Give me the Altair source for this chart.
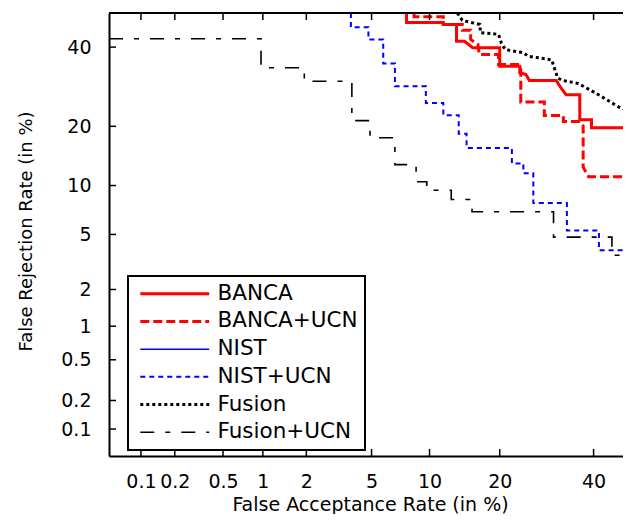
import altair as alt
import pandas as pd
from statistics import NormalDist

# ---------------- data (percent) ----------------
SERIES = ["BANCA", "BANCA+UCN", "NIST", "NIST+UCN", "Fusion", "Fusion+UCN"]
COLORS = ["#ff0000", "#ff0000", "#0000ff", "#0000ff", "#000000", "#000000"]
DASHES = [[1, 0], [9, 4], [1, 0], [5, 4], [3, 3], [14, 11, 5, 11]]
WIDTHS = [3, 3, 1.5, 2, 3, 1.6]

BANCA_FAR = [7.7, 7.7, 11.6, 11.6, 13.3, 13.3, 14.4, 15.6, 20.0, 20.0, 23.7, 23.7,
             24.9, 25.6, 31.3, 32.3, 33.5, 36.7, 36.7, 39.5, 39.5, 47.6, 48.4, 50]
BANCA_FRR = [50, 47.2, 47.2, 46.6, 46.6, 41.7, 41.7, 39.8, 39.8, 34.6, 34.6, 32.9,
             32.4, 30.8, 30.8, 29.0, 27.2, 27.2, 21.4, 21.4, 19.7, 19.7, 16.4, 16.0]

BANCA_UCN_FAR = [8.4, 8.4, 11.6, 11.6, 14.1, 14.1, 15.3, 15.3, 16.4, 16.6, 19.8, 19.8,
                 23.7, 23.9, 23.9, 28.7, 28.7, 32.9, 32.9, 36.7, 37.5, 37.5, 38.8, 50]
BANCA_UCN_FRR = [50, 48.9, 48.9, 46.6, 46.6, 44.9, 44.9, 42.2, 40.8, 37.9, 37.9, 35.1,
                 35.1, 33.3, 25.4, 25.4, 22.3, 22.3, 21.0, 21.0, 20.1, 12.6, 11.2, 11.2]

NIST_FAR = [47.8, 47.8, 50]
NIST_FRR = [50, 46.9, 46.9]

NIST_UCN_FAR = [3.8, 3.8, 4.8, 4.8, 5.8, 5.8, 6.7, 6.7, 9.6, 9.6, 11.6, 11.6, 13.6, 13.6,
                14.7, 14.7, 22.2, 22.2, 24.4, 24.4, 26.4, 26.4, 33.7, 33.7, 41.3, 41.3,
                48.1, 48.1, 50]
NIST_UCN_FRR = [50, 45.8, 45.8, 42.2, 42.2, 35.4, 35.4, 29.3, 29.3, 25.2, 25.2, 22.4, 22.4,
                18.5, 18.5, 15.8, 15.8, 13.2, 13.2, 11.7, 11.7, 7.9, 7.9, 5.3, 5.3, 3.9,
                3.9, 2.7, 2.7]

FUSION_FAR = [13.4, 14.1, 16.7, 16.8, 19.8, 20.3, 21.0, 24.4, 25.4, 30.3, 31.6, 32.5,
              36.4, 41.2, 46.1, 48.9, 50]
FUSION_FRR = [50, 47.8, 46.6, 44.2, 43.7, 41.1, 39.3, 38.4, 37.4, 36.4, 31.5, 30.9,
              30.0, 27.2, 24.3, 23.3, 23.0]

FUSION_UCN_FAR = [0.05, 0.97, 0.97, 1.94, 1.94, 3.85, 3.85, 4.9, 4.9, 6.7, 6.7, 8.6,
                  8.6, 9.7, 9.7, 12.6, 12.6, 15.5, 15.5, 30.7, 30.7, 44.5, 44.5, 50]
FUSION_UCN_FRR = [42.4, 42.4, 34.2, 34.2, 30.6, 30.6, 21.2, 21.2, 17.7, 17.7, 13.0, 13.0,
                  10.5, 10.5, 9.4, 9.4, 8.3, 8.3, 7.0, 7.0, 4.8, 4.8, 3.6, 3.6]

TICKS = [0.1, 0.2, 0.5, 1, 2, 5, 10, 20, 40]
AXIS_MIN, AXIS_MAX = 0.05, 50

FARS = [BANCA_FAR, BANCA_UCN_FAR, NIST_FAR, NIST_UCN_FAR, FUSION_FAR, FUSION_UCN_FAR]
FRRS = [BANCA_FRR, BANCA_UCN_FRR, NIST_FRR, NIST_UCN_FRR, FUSION_FRR, FUSION_UCN_FRR]

rows = []
for name, fars, frrs in zip(SERIES, FARS, FRRS):
    for i, (f, r) in enumerate(zip(fars, frrs)):
        rows.append({"series": name, "far": f, "frr": r, "idx": i})
df = pd.DataFrame(rows)

nd = NormalDist()
zmin = nd.inv_cdf(AXIS_MIN / 100)
zmax = nd.inv_cdf(AXIS_MAX / 100)
tick_z = [nd.inv_cdf(t / 100) for t in TICKS]
ticks_df = pd.DataFrame({"pct": TICKS, "z": tick_z})

# ---------------- layout ----------------
W, H = 514, 443
XR = 525            # full (uncropped) width of the probability axis
TL = 7
FONT = "DejaVu Sans"
z_right = zmin + (zmax - zmin) * W / XR   # plot is cropped on the right like the source

xscale = alt.Scale(domain=[zmin, z_right], nice=False, zero=False)
yscale = alt.Scale(domain=[zmin, zmax], nice=False, zero=False)

label_expr = "toString(round(cumulativeNormal(datum.value) * 1000) / 10)"

xaxis = alt.Axis(values=tick_z, labelExpr=label_expr, ticks=False, grid=False,
                 domainColor="black", domainWidth=2,
                 labelFont=FONT, labelFontSize=19, labelColor="black",
                 labelPadding=16, labelOverlap=False, labelFlush=False,
                 title="False Acceptance Rate (in %)", titleFont=FONT,
                 titleFontSize=19, titleFontWeight="normal", titleColor="black",
                 titleX=261, titleY=54, titleBaseline="alphabetic", titleAlign="center")

yaxis = alt.Axis(values=tick_z, labelExpr=label_expr, ticks=False, grid=False,
                 domainColor="black", domainWidth=2,
                 labelFont=FONT, labelFontSize=19, labelColor="black",
                 labelPadding=18, labelOverlap=False, labelFlush=False,
                 title="False Rejection Rate (in %)", titleFont=FONT,
                 titleFontSize=18, titleFontWeight="normal", titleColor="black",
                 titleAngle=270, titleX=-78, titleY=218, titleBaseline="alphabetic",
                 titleAlign="center")

legend = alt.Legend(title=None, orient="none", legendX=19, legendY=263,
                    symbolType="M-6,0H6", symbolSize=132, symbolOffset=29,
                    labelOffset=32, labelFont=FONT, labelFontSize=21.5,
                    labelColor="black", labelLimit=0,
                    strokeColor="black", fillColor="white", padding=7,
                    rowPadding=4.7, cornerRadius=0)

lines = alt.Chart(df).transform_calculate(
    zx="quantileNormal(datum.far / 100)",
    zy="quantileNormal(datum.frr / 100)",
).mark_line(clip=True, strokeCap="butt", strokeJoin="miter").encode(
    x=alt.X("zx:Q", scale=xscale, axis=xaxis),
    y=alt.Y("zy:Q", scale=yscale, axis=yaxis),
    color=alt.Color("series:N", scale=alt.Scale(domain=SERIES, range=COLORS), legend=legend),
    strokeDash=alt.StrokeDash("series:N", scale=alt.Scale(domain=SERIES, range=DASHES), legend=legend),
    strokeWidth=alt.StrokeWidth("series:N", scale=alt.Scale(type="ordinal", domain=SERIES, range=WIDTHS), legend=legend),
    order=alt.Order("idx:Q"),
)

tick_base = alt.Chart(ticks_df).mark_rule(color="black", strokeWidth=1.5, clip=True)
left_ticks = tick_base.encode(y=alt.Y("z:Q", scale=yscale, axis=yaxis), x=alt.value(0), x2=alt.value(TL))
top_ticks = tick_base.encode(x=alt.X("z:Q", scale=xscale, axis=xaxis), y=alt.value(0), y2=alt.value(TL))
bottom_ticks = tick_base.encode(x=alt.X("z:Q", scale=xscale, axis=xaxis), y=alt.value(H), y2=alt.value(H - TL))

top_border = alt.Chart(pd.DataFrame({"k": [0]})).mark_rule(color="black", strokeWidth=2).encode(
    x=alt.value(0), x2=alt.value(W), y=alt.value(0))

chart = alt.layer(lines, left_ticks, top_ticks, bottom_ticks, top_border).properties(
    width=W, height=H,
    autosize=alt.AutoSizeParams(type="none"),
    padding={"left": 101, "top": 5, "right": 0, "bottom": 58},
    background="white",
).configure_view(stroke=None).configure_legend(strokeWidth=2)

chart.save("out.html", embed_options={"renderer": "svg", "actions": False})
